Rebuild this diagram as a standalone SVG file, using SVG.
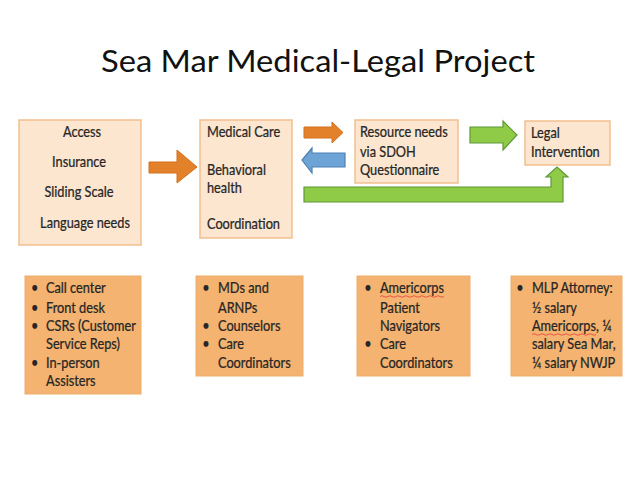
<svg xmlns="http://www.w3.org/2000/svg" width="638" height="479" viewBox="0 0 638 479">
<style>
text{font-family:Lato,"Liberation Sans",Arial,sans-serif;fill:#262626;}
.t{font-size:14.5px;stroke:#262626;stroke-width:0.25;}
.light{fill:#FCE6D0;stroke:#F2BF8F;stroke-width:1.5;}
.dark{fill:#F4B370;stroke:#EFAE6C;stroke-width:1;}
.org{fill:#E3812B;stroke:#D2711F;stroke-width:1;}
.blu{fill:#6EA3D6;stroke:#4F80B3;stroke-width:1.2;}
.grn{fill:#8FCB47;stroke:#5F9838;stroke-width:1.2;}
.sq{fill:none;stroke:#E0403A;stroke-width:0.8;}
</style>
<rect width="638" height="479" fill="#fff"/>
<text x="318" y="72" font-size="31" text-anchor="middle" style="fill:#111" textLength="434" lengthAdjust="spacingAndGlyphs">Sea Mar Medical-Legal Project</text>

<g id="connectors">
<path class="org" d="M149,162 H177 V150 L197,167 L177,183 V173 H149 Z"/>
<path class="org" d="M304,127 H332 V122 L343,132.5 L332,143 V138 H304 Z"/>
<path class="blu" d="M345,153 H312 V148 L302,160 L312,173 V167 H345 Z"/>
<path class="grn" d="M470,127 H503 V121 L517,135 L503,150 V143 H470 Z"/>
<path class="grn" d="M304,187 H551 V177 H546 L557,167 L568,177 H563 V202 H304 Z"/>
</g>

<g id="n-access">
<rect class="light" x="19" y="120" width="122" height="125"/>
<g transform="translate(80 0) scale(0.88 1)">
<text class="t" x="2.3" y="137" text-anchor="middle">Access</text>
<text class="t" x="-1.1" y="167" text-anchor="middle">Insurance</text>
<text class="t" x="-1.1" y="197" text-anchor="middle">Sliding Scale</text>
<text class="t" x="5.7" y="228" text-anchor="middle">Language needs</text>
</g>
</g>

<g id="n-medical">
<rect class="light" x="200" y="120" width="92" height="118"/>
<g transform="translate(207 0) scale(0.88 1)">
<text class="t" x="0" y="137">Medical Care</text>
<text class="t" x="0" y="175">Behavioral</text>
<text class="t" x="0" y="193">health</text>
<text class="t" x="0" y="229">Coordination</text>
</g>
</g>

<g id="n-resource">
<rect class="light" x="355" y="120" width="103" height="63"/>
<g transform="translate(360 0) scale(0.88 1)">
<text class="t" x="0" y="137">Resource needs</text>
<text class="t" x="0" y="157">via SDOH</text>
<text class="t" x="0" y="175">Questionnaire</text>
</g>
</g>

<g id="n-legal">
<rect class="light" x="525" y="121" width="85" height="44"/>
<g transform="translate(531 0) scale(0.88 1)">
<text class="t" x="0" y="138">Legal</text>
<text class="t" x="0" y="157">Intervention</text>
</g>
</g>

<g id="n-staff-access">
<rect class="dark" x="25" y="276" width="116" height="118"/>
<g transform="translate(46 0) scale(0.88 1)">
<text class="t" x="-17" y="293">•</text><text class="t" x="0" y="293">Call center</text>
<text class="t" x="-17" y="313">•</text><text class="t" x="0" y="313">Front desk</text>
<text class="t" x="-17" y="331">•</text><text class="t" x="0" y="331">CSRs (Customer</text>
<text class="t" x="0" y="349">Service Reps)</text>
<text class="t" x="-17" y="368">•</text><text class="t" x="0" y="368">In-person</text>
<text class="t" x="0" y="386">Assisters</text>
</g>
</g>

<g id="n-staff-medical">
<rect class="dark" x="196" y="276" width="107" height="100"/>
<g transform="translate(218 0) scale(0.88 1)">
<text class="t" x="-18" y="293">•</text><text class="t" x="0" y="293">MDs and</text>
<text class="t" x="0" y="313">ARNPs</text>
<text class="t" x="-18" y="331">•</text><text class="t" x="0" y="331">Counselors</text>
<text class="t" x="-18" y="349">•</text><text class="t" x="0" y="349">Care</text>
<text class="t" x="0" y="368">Coordinators</text>
</g>
</g>

<g id="n-staff-resource">
<rect class="dark" x="357" y="276" width="113" height="100"/>
<g transform="translate(380 0) scale(0.88 1)">
<text class="t" x="-18" y="293">•</text><text class="t" x="0" y="293">Americorps</text>
<text class="t" x="0" y="313">Patient</text>
<text class="t" x="0" y="331">Navigators</text>
<text class="t" x="-18" y="349">•</text><text class="t" x="0" y="349">Care</text>
<text class="t" x="0" y="368">Coordinators</text>
</g>
<path class="sq" d="M380,296.5 q2,-1.5 4,0 t4,0 t4,0 t4,0 t4,0 t4,0 t4,0 t4,0 t4,0 t4,0 t4,0 t4,0 t4,0 t4,0 t4,0 t4,0"/>
</g>

<g id="n-staff-legal">
<rect class="dark" x="511" y="276" width="111" height="100"/>
<g transform="translate(532 0) scale(0.88 1)">
<text class="t" x="-18" y="293">•</text><text class="t" x="0" y="293">MLP Attorney:</text>
<text class="t" x="0" y="313">½ salary</text>
<text class="t" x="0" y="331">Americorps, ¼</text>
<text class="t" x="0" y="349">salary Sea Mar,</text>
<text class="t" x="0" y="368">¼ salary NWJP</text>
</g>
<path class="sq" d="M532,334.5 q2,-1.5 4,0 t4,0 t4,0 t4,0 t4,0 t4,0 t4,0 t4,0 t4,0 t4,0 t4,0 t4,0 t4,0 t4,0 t4,0 t4,0"/>
</g>
</svg>
